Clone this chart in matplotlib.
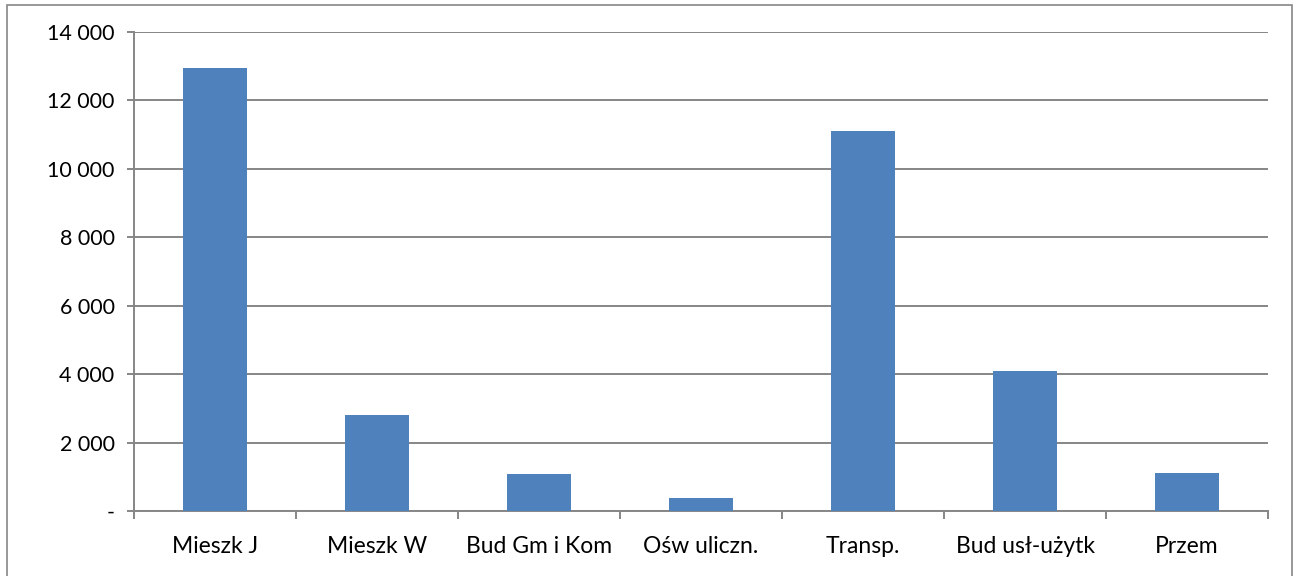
import numpy as np
import matplotlib.pyplot as plt
from matplotlib.patches import Rectangle
from matplotlib.ticker import FixedLocator, FuncFormatter

categories = ["Mieszk J", "Mieszk W", "Bud Gm i Kom", "Ośw uliczn.",
              "Transp.", "Bud usł-użytk", "Przem"]
values = [12950, 2810, 1080, 380, 11110, 4090, 1100]
y_ticks = [0, 2000, 4000, 6000, 8000, 10000, 12000, 14000]

bar_color = "#4F81BD"
grid_color = "#868686"

plt.rcParams["font.family"] = ["Lato", "DejaVu Sans"]

fig = plt.figure(figsize=(12.99, 5.76), dpi=100)
ax = fig.add_axes([134 / 1299, 1 - 511 / 576, (1268 - 134) / 1299, (511 - 32) / 576])

x = np.arange(len(categories))
ax.bar(x, values, width=0.4, color=bar_color, zorder=3)

ax.set_xlim(-0.5, len(categories) - 0.5)
ax.set_ylim(0, 14000)
ax.set_yticks(y_ticks)


def fmt(v, pos):
    if v == 0:
        return "-"
    return f"{int(v):,}".replace(",", " ")


ax.yaxis.set_major_formatter(FuncFormatter(fmt))
ax.yaxis.grid(True, color=grid_color, linewidth=1.4, zorder=0)
ax.set_axisbelow(True)

ax.set_xticks(x)
ax.set_xticklabels(categories)
ax.xaxis.set_minor_locator(FixedLocator(np.arange(-0.5, len(categories), 1)))
ax.tick_params(axis="x", which="major", length=0, pad=18, labelsize=16.5)
ax.tick_params(axis="x", which="minor", length=6, width=1.4, color=grid_color, direction="out")
ax.tick_params(axis="y", length=5, width=1.4, color=grid_color, pad=9, labelsize=15.5)

for side in ["top", "right"]:
    ax.spines[side].set_visible(False)
for side in ["left", "bottom"]:
    ax.spines[side].set_color(grid_color)
    ax.spines[side].set_linewidth(1.4)

# outer chart border
fig.patches.append(Rectangle((7 / 1299, -0.01), (1292 - 7) / 1299, 1.01 - 5 / 576,
                             transform=fig.transFigure, fill=False,
                             edgecolor=grid_color, linewidth=1.2))

fig.savefig("out.png", dpi=100)
